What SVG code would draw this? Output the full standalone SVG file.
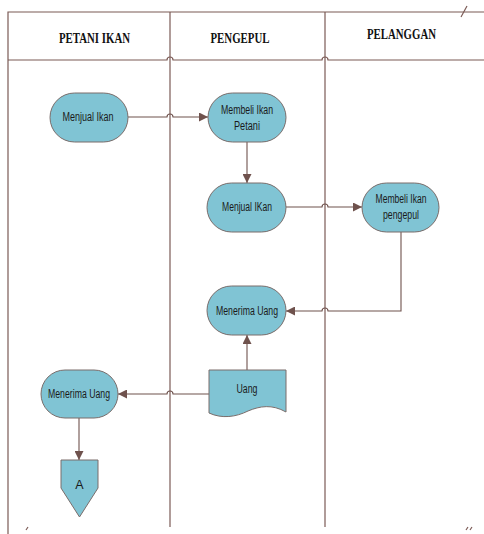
<svg xmlns="http://www.w3.org/2000/svg" width="484" height="534" viewBox="0 0 484 534">
<defs>
<marker id="ah" viewBox="0 0 10 10" refX="10" refY="5" markerWidth="9" markerHeight="9" markerUnits="userSpaceOnUse" orient="auto">
<path d="M0,0 L10,5 L0,10 z" fill="#6f524d"/>
</marker>
<style>
.frame{fill:none;stroke:#7b5a55;stroke-width:1.2}
.node{fill:#80c4d4;stroke:#7a6d6b;stroke-width:1}
.conn{fill:none;stroke:#6f524d;stroke-width:1.1}
.hdr{font-family:"Liberation Serif","Times New Roman",serif;font-weight:bold;font-size:15px;fill:#111;text-anchor:middle}
.lbl{font-family:"Liberation Sans",Arial,sans-serif;font-size:12.5px;fill:#1a1a1a;text-anchor:middle}
</style>
</defs>
<rect width="484" height="534" fill="#fff"/>
<g id="lanes">
<path class="frame" d="M484,12 H8 V534"/>
<path class="frame" d="M8,60 H167 a3,3 0 0 1 6,0 H322 a3,3 0 0 1 6,0 H484"/>
<path class="frame" d="M170,12 V527"/>
<path class="frame" d="M325,12 V527"/>
<path class="frame" d="M461,17 L467,6" stroke-width="1"/>
<path class="frame" d="M26,530 L28,527" stroke-width="0.8"/>
<path class="frame" d="M466,530 L468,527 M470,530 L472,527" stroke-width="0.8"/>
<text class="hdr" x="94.5" y="43" textLength="71" lengthAdjust="spacingAndGlyphs">PETANI IKAN</text>
<text class="hdr" x="240" y="43" textLength="59" lengthAdjust="spacingAndGlyphs">PENGEPUL</text>
<text class="hdr" x="401.5" y="39" textLength="69" lengthAdjust="spacingAndGlyphs">PELANGGAN</text>
</g>
<g id="connectors">
<path class="conn" d="M128,117 H167 a3,3 0 0 1 6,0 H208" marker-end="url(#ah)"/>
<path class="conn" d="M247,142 V183" marker-end="url(#ah)"/>
<path class="conn" d="M286,207 H322 a3,3 0 0 1 6,0 H362" marker-end="url(#ah)"/>
<path class="conn" d="M401,232 V311 H328 a3,3 0 0 0 -6,0 H286" marker-end="url(#ah)"/>
<path class="conn" d="M247,370 V335" marker-end="url(#ah)"/>
<path class="conn" d="M209,394 H173 a3,3 0 0 0 -6,0 H118" marker-end="url(#ah)"/>
<path class="conn" d="M79,418 V460" marker-end="url(#ah)"/>
</g>
<g id="menjual-ikan">
<rect class="node" x="50" y="93" width="78" height="49" rx="24.5"/>
<text class="lbl" x="88" y="121" textLength="51" lengthAdjust="spacingAndGlyphs">Menjual Ikan</text>
</g>
<g id="membeli-ikan-petani">
<rect class="node" x="208" y="93" width="78" height="49" rx="24.5"/>
<text class="lbl" x="247" y="114" textLength="52" lengthAdjust="spacingAndGlyphs">Membeli Ikan</text>
<text class="lbl" x="247" y="130" textLength="26" lengthAdjust="spacingAndGlyphs">Petani</text>
</g>
<g id="menjual-ikan-pengepul">
<rect class="node" x="207" y="183" width="79" height="49" rx="24.5"/>
<text class="lbl" x="247" y="211" textLength="50" lengthAdjust="spacingAndGlyphs">Menjual IKan</text>
</g>
<g id="membeli-ikan-pengepul">
<rect class="node" x="362" y="183" width="77" height="49" rx="24.5"/>
<text class="lbl" x="401" y="203" textLength="51" lengthAdjust="spacingAndGlyphs">Membeli Ikan</text>
<text class="lbl" x="401" y="219" textLength="36" lengthAdjust="spacingAndGlyphs">pengepul</text>
</g>
<g id="menerima-uang-pengepul">
<rect class="node" x="207" y="286" width="79" height="49" rx="24.5"/>
<text class="lbl" x="247" y="315" textLength="62" lengthAdjust="spacingAndGlyphs">Menerima Uang</text>
</g>
<g id="uang">
<path class="node" d="M209,370 H286 V412 C272,404 260,406 248,411 C236,417 222,419 209,413 Z"/>
<text class="lbl" x="247" y="393" textLength="21" lengthAdjust="spacingAndGlyphs">Uang</text>
</g>
<g id="menerima-uang-petani">
<rect class="node" x="41" y="370" width="77" height="48" rx="24"/>
<text class="lbl" x="79" y="398" textLength="62" lengthAdjust="spacingAndGlyphs">Menerima Uang</text>
</g>
<g id="connector-a">
<path class="node" d="M61,460 H98 V488 L79.5,517 L61,488 Z"/>
<text class="lbl" x="79.5" y="489">A</text>
</g>
</svg>
